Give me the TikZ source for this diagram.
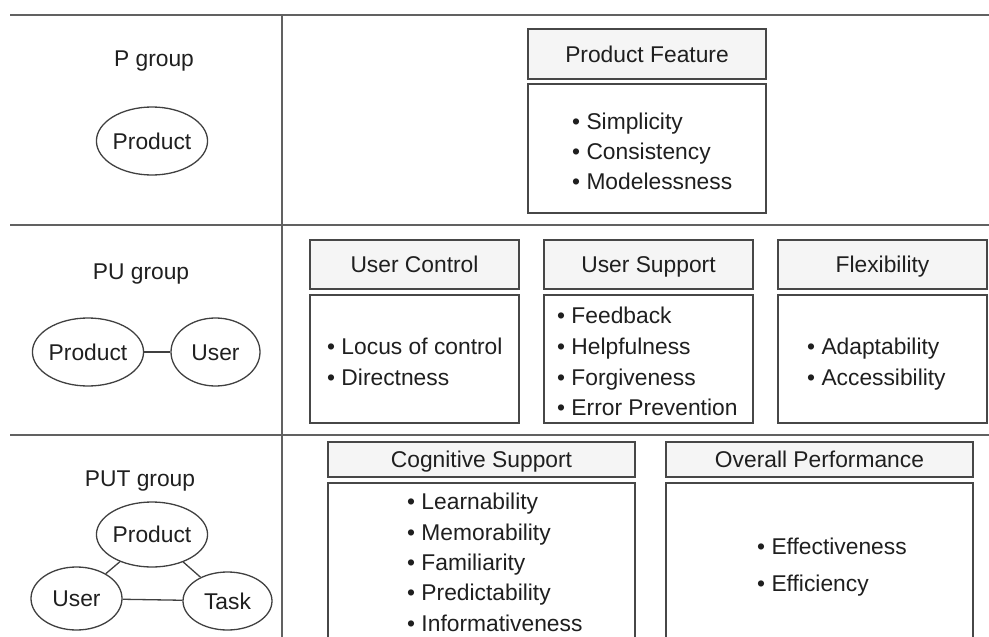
\documentclass[tikz,border=0pt]{standalone}
\usepackage{fontspec}
\setmainfont{Liberation Sans}
\usetikzlibrary{shapes.geometric}
\begin{document}
\begin{tikzpicture}[x=1pt,y=-1pt,
  every node/.style={font=\fontsize{22.8}{27}\selectfont, text=black!88},
  sep/.style={draw=black!62, line width=2pt},
  hdr/.style={draw=black!72, line width=1.4pt, fill=black!4, inner sep=0pt, text height=16.4pt, text depth=0pt},
  bodybox/.style={draw=black!72, line width=1.4pt, fill=white, inner sep=0pt},
  oval/.style={ellipse, draw=black!75, line width=1.3pt, inner sep=0pt, text height=16.4pt, text depth=0pt},
  link/.style={draw=black!75, line width=1.3pt},
  item/.style={anchor=base west, inner sep=0pt},
  grp/.style={anchor=base, inner sep=0pt}
]
\useasboundingbox (0,0) rectangle (989,637);
\clip (0,0) rectangle (989,637);

% separators
\coordinate (h1l) at (10,15);  \coordinate (h1r) at (989,15);
\coordinate (h2l) at (10,225); \coordinate (h2r) at (989,225);
\coordinate (h3l) at (10,435); \coordinate (h3r) at (989,435);
\coordinate (vt) at (282,15);  \coordinate (vb) at (282,637);
\draw[sep] (h1l) -- (h1r);
\draw[sep] (h2l) -- (h2r);
\draw[sep] (h3l) -- (h3r);
\draw[sep] (vt) -- (vb);

% group labels
\node[grp] (pg) at (154,66) {P group};
\node[grp] (pug) at (141,279) {PU group};
\node[grp] (putg) at (140,486) {PUT group};

% ellipses
\node[oval, minimum width=90pt, minimum height=68pt] (p1) at (152,141) {Product};
\node[oval, minimum width=89pt, minimum height=68pt] (p2) at (88,352) {Product};
\node[oval, minimum width=89pt, minimum height=68pt] (u2) at (215.5,352) {User};
\draw[link] (p2) -- (u2);
\node[oval, minimum width=90pt, minimum height=65pt] (p3) at (152,534.5) {Product};
\node[oval, minimum width=91pt, minimum height=63pt] (u3) at (76.5,598.5) {User};
\node[oval, minimum width=89pt, minimum height=58pt] (t3) at (227.5,601) {Task};
\draw[link] (p3) -- (u3);
\draw[link] (p3) -- (t3);
\draw[link] (u3) -- (t3);

% P group boxes
\node[hdr, minimum width=238pt, minimum height=50pt] (pfh) at (647,54) {Product Feature};
\node[bodybox, minimum width=238pt, minimum height=129pt] (pfb) at (647,148.5) {};
\node[item] (pf1) at (572,129) {• Simplicity};
\node[item] (pf2) at (572,159) {• Consistency};
\node[item] (pf3) at (572,189) {• Modelessness};

% PU group boxes
\node[hdr, minimum width=209pt, minimum height=49pt] (uch) at (414.5,264.5) {User Control};
\node[bodybox, minimum width=209pt, minimum height=128pt] (ucb) at (414.5,359) {};
\node[item] (uc1) at (327,354) {• Locus of control};
\node[item] (uc2) at (327,385) {• Directness};

\node[hdr, minimum width=209pt, minimum height=49pt] (ush) at (648.5,264.5) {User Support};
\node[bodybox, minimum width=209pt, minimum height=128pt] (usb) at (648.5,359) {};
\node[item] (us1) at (557,323) {• Feedback};
\node[item] (us2) at (557,354) {• Helpfulness};
\node[item] (us3) at (557,385) {• Forgiveness};
\node[item] (us4) at (557,415) {• Error Prevention};

\node[hdr, minimum width=209pt, minimum height=49pt] (flh) at (882.5,264.5) {Flexibility};
\node[bodybox, minimum width=209pt, minimum height=128pt] (flb) at (882.5,359) {};
\node[item] (fl1) at (807,354) {• Adaptability};
\node[item] (fl2) at (807,385) {• Accessibility};

% PUT group boxes
\node[hdr, minimum width=307pt, minimum height=35pt] (csh) at (481.5,459.5) {Cognitive Support};
\node[bodybox, minimum width=307pt, minimum height=177pt] (csb) at (481.5,571.5) {};
\node[item] (cs1) at (407,509) {• Learnability};
\node[item] (cs2) at (407,540) {• Memorability};
\node[item] (cs3) at (407,570) {• Familiarity};
\node[item] (cs4) at (407,600) {• Predictability};
\node[item] (cs5) at (407,631) {• Informativeness};

\node[hdr, minimum width=307pt, minimum height=35pt] (oph) at (819.5,459.5) {Overall Performance};
\node[bodybox, minimum width=307pt, minimum height=177pt] (opb) at (819.5,571.5) {};
\node[item] (op1) at (757,554) {• Effectiveness};
\node[item] (op2) at (757,591) {• Efficiency};
\end{tikzpicture}
\end{document}
